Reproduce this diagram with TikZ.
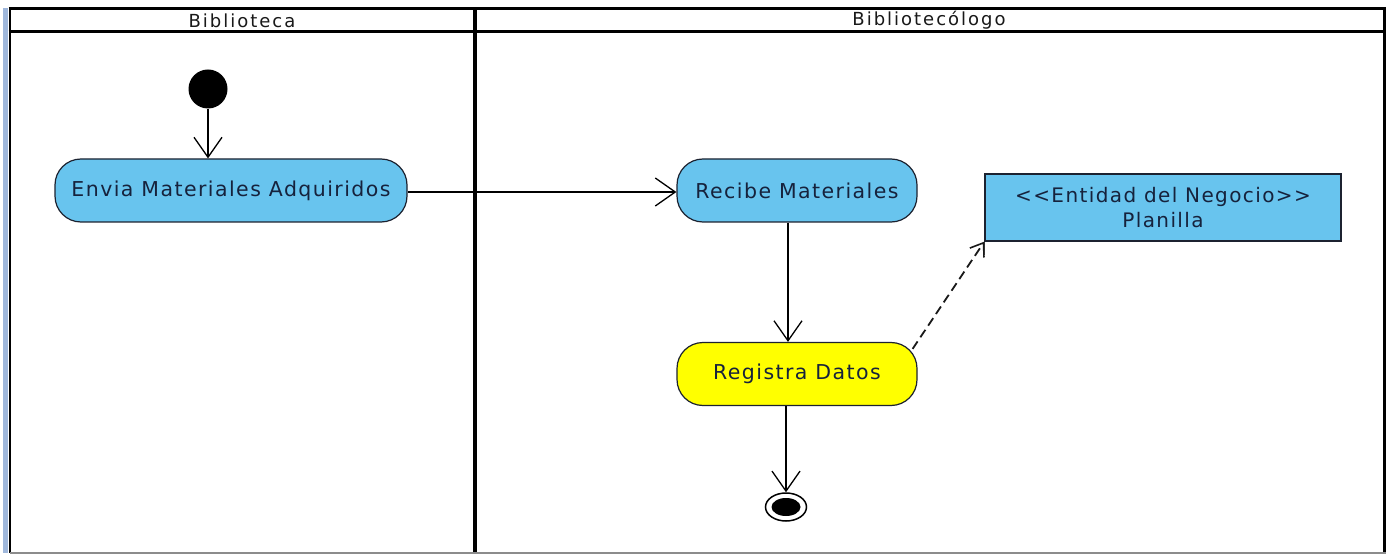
\documentclass[tikz,border=0pt]{standalone}
\usepackage{fontspec}
\setmainfont{DejaVu Sans}
\newfontfamily\lanefont[LetterSpace=11]{DejaVu Sans}
\newfontfamily\actfont[LetterSpace=7]{DejaVu Sans}
\usetikzlibrary{arrows.meta,shapes.geometric}
\definecolor{actblue}{RGB}{104,196,238}
\definecolor{actyellow}{RGB}{255,255,0}
\definecolor{inkline}{RGB}{28,34,48}
\definecolor{inktext}{RGB}{22,34,60}
\definecolor{stripe}{RGB}{160,184,220}
\tikzset{
  lanetitle/.style={font=\lanefont\fontsize{18pt}{20pt}\selectfont, text=black!90, inner sep=0pt},
  activity/.style={draw=inkline, line width=1.2pt, rounded corners=26pt, fill=actblue,
    font=\actfont\fontsize{20.5pt}{23pt}\selectfont, text=inktext, inner sep=0pt, align=center},
  entity/.style={draw=inkline, line width=1.3pt, fill=actblue,
    font=\actfont\fontsize{20pt}{25pt}\selectfont, text=inktext, inner sep=0pt, align=center},
  initial/.style={circle, fill=black, inner sep=0pt, minimum size=39pt},
  finalring/.style={ellipse, draw=black, line width=1.5pt, fill=white, inner sep=0pt,
    minimum width=41pt, minimum height=28pt},
  flow/.style={draw=black, line width=1.3pt, -{Straight Barb[length=20pt,width=28pt,line width=1.3pt]}},
  dep/.style={draw=black!90, line width=1.8pt, dash pattern=on 9pt off 5pt,
    -{Straight Barb[length=12pt,width=17pt,line width=1.6pt]}},
}
\begin{document}
\begin{tikzpicture}[x=1pt, y=-1pt]
  \useasboundingbox (0,0) rectangle (1393,556);
  \fill[white] (0,0) rectangle (1393,556);

  % swimlane frame
  \fill[stripe] (3,8) rectangle (7.5,553);
  \draw[line width=2.8pt] (10,8) -- (10,553);
  \draw[line width=3pt] (8.5,9) -- (1385.5,9);
  \draw[line width=3pt] (8.5,32) -- (1385.5,32);
  \draw[line width=3.5pt] (475,8) -- (475,553);
  \draw[line width=3pt] (1384,8) -- (1384,553);
  \draw[black!45, line width=2pt] (10,553) -- (1386,553);

  % lane titles
  \node[lanetitle] (laneA) at (242,20.5) {Biblioteca};
  \node[lanetitle] (laneB) at (929,20.5) {Bibliotecólogo};

  % states and activities
  \node[initial] (start) at (208,89) {};
  \node[activity, minimum width=352pt, minimum height=63pt] (envia) at (231,190.5) {Envia Materiales Adquiridos};
  \node[activity, minimum width=240pt, minimum height=63pt] (recibe) at (797,190.5) {Recibe Materiales};
  \node[activity, fill=actyellow, minimum width=240pt, minimum height=63pt] (registra) at (797,374) {Registra Datos};
  \node[entity, minimum width=356pt, minimum height=67pt] (planilla) at (1163,207.5) {<<Entidad del Negocio>>\\Planilla};
  \node[finalring] (end) at (786,507) {};
  \node[ellipse, fill=black, inner sep=0pt, minimum width=29pt, minimum height=18pt] (endcore) at (end.center) {};

  % control flow
  \draw[flow] (start) -- (start |- envia.north);
  \draw[flow] (envia.east |- 0,192) -- (recibe.west |- 0,192);
  \draw[flow] ([xshift=-9pt]recibe.south) -- ([xshift=-9pt]registra.north);
  \draw[flow] ([xshift=-11pt]registra.south) -- (end.north);

  % object dependency
  \coordinate (depstart) at ([xshift=-5pt,yshift=-7pt]registra.north east);
  \draw[dep] (depstart) -- (planilla.south west);
  \draw[black!80, line width=1.3pt] (planilla.south west) -- ++(0,13);
\end{tikzpicture}
\end{document}
